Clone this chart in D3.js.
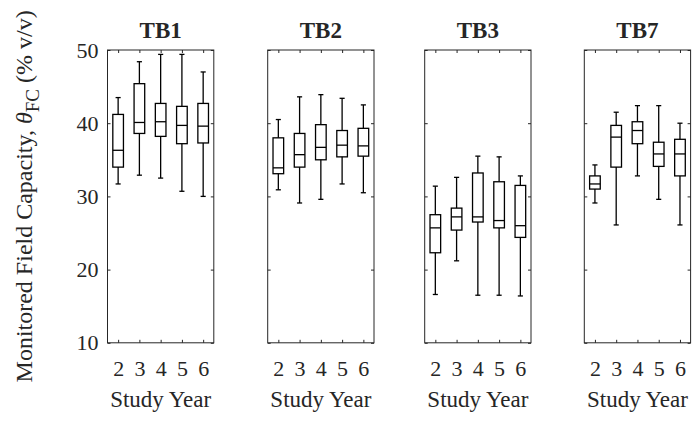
<!DOCTYPE html>
<html>
<head>
<meta charset="utf-8">
<script src="https://cdn.jsdelivr.net/npm/d3@7"></script>
<style>
  html, body { margin: 0; padding: 0; background: #fff; }
  svg { display: block; }
  text { font-family: "Liberation Serif", "Times New Roman", serif; fill: #262626; }
</style>
</head>
<body>
<div id="chart"></div>
<script>
// ---- data ----
const sites = ["TB1", "TB2", "TB3", "TB7"];
const years = [2, 3, 4, 5, 6];
const yTicks = [10, 20, 30, 40, 50];
// per site: lower whisker, Q1, median, Q3, upper whisker for each study year
const tb1Low = [31.7, 32.9, 32.5, 30.7, 30.0];
const tb1Q1  = [34.0, 38.6, 38.2, 37.2, 37.3];
const tb1Med = [36.3, 40.1, 40.2, 39.7, 39.6];
const tb1Q3  = [41.2, 45.4, 42.7, 42.3, 42.7];
const tb1High= [43.5, 48.4, 49.4, 49.4, 47.0];

const tb2Low = [30.9, 29.1, 29.6, 31.7, 30.5];
const tb2Q1  = [33.1, 34.0, 35.0, 35.4, 35.5];
const tb2Med = [33.9, 35.7, 36.7, 37.0, 36.9];
const tb2Q3  = [38.0, 38.6, 39.8, 39.0, 39.3];
const tb2High= [40.5, 43.6, 43.9, 43.4, 42.5];

const tb3Low = [16.6, 21.2, 16.5, 16.5, 16.4];
const tb3Q1  = [22.3, 25.4, 26.5, 25.7, 24.4];
const tb3Med = [25.7, 27.2, 27.2, 26.7, 26.0];
const tb3Q3  = [27.5, 28.4, 33.2, 32.0, 31.5];
const tb3High= [31.4, 32.6, 35.5, 35.4, 32.8];

const tb7Low = [29.1, 26.1, 32.8, 29.6, 26.1];
const tb7Q1  = [31.0, 34.0, 37.2, 34.1, 32.8];
const tb7Med = [31.7, 38.1, 39.0, 35.8, 35.8];
const tb7Q3  = [32.8, 39.7, 40.2, 37.4, 37.8];
const tb7High= [34.3, 41.5, 42.4, 42.4, 40.0];

const siteStats = [
  [tb1Low, tb1Q1, tb1Med, tb1Q3, tb1High],
  [tb2Low, tb2Q1, tb2Med, tb2Q3, tb2High],
  [tb3Low, tb3Q1, tb3Med, tb3Q3, tb3High],
  [tb7Low, tb7Q1, tb7Med, tb7Q3, tb7High]
];

// ---- layout ----
const W = 696, H = 421;
const panelLeft = [107.5, 267.7, 424.7, 584.3];
const panelW = 106.3;
const plotTop = 50, plotBottom = 342.8;
const axisColor = "#262626";

const svg = d3.select("#chart").append("svg")
  .attr("width", W).attr("height", H);

const y = d3.scaleLinear().domain([10, 50]).range([plotBottom, plotTop]);

sites.forEach((site, si) => {
  const g = svg.append("g").attr("transform", `translate(${panelLeft[si]},0)`);
  const x = d3.scaleLinear().domain([1.5, 6.5]).range([0, panelW]);
  const [lo, q1, med, q3, hi] = siteStats[si];
  const data = years.map((yr, i) => ({ yr, lo: lo[i], q1: q1[i], med: med[i], q3: q3[i], hi: hi[i] }));

  // ticks: inward on all four sides
  const tl = 3;
  const axL = d3.axisLeft(y).tickValues(yTicks).tickSize(-tl).tickFormat(si === 0 ? d3.format("d") : () => "").tickPadding(9);
  const gl = g.append("g").call(axL);
  const axR = d3.axisRight(y).tickValues(yTicks).tickSize(-tl).tickFormat(() => "");
  const gr = g.append("g").attr("transform", `translate(${panelW},0)`).call(axR);
  const axB = d3.axisBottom(x).tickValues(years).tickSize(-tl).tickFormat(d3.format("d")).tickPadding(18);
  const gb = g.append("g").attr("transform", `translate(0,${plotBottom})`).call(axB);
  const axT = d3.axisTop(x).tickValues(years).tickSize(-tl).tickFormat(() => "");
  const gt = g.append("g").attr("transform", `translate(0,${plotTop})`).call(axT);
  [gl, gr, gb, gt].forEach(a => {
    a.select(".domain").remove();
    a.selectAll("line").attr("stroke", axisColor).attr("stroke-width", 1);
    a.selectAll("text").attr("fill", axisColor)
      .style("font-family", '"Liberation Serif", "Times New Roman", serif')
      .style("font-size", "22px");
  });
  gb.selectAll("text").attr("dy", "0.71em");

  g.append("rect").attr("x", 0).attr("y", plotTop).attr("width", panelW).attr("height", plotBottom - plotTop)
    .attr("fill", "none").attr("stroke", axisColor).attr("stroke-width", 1);

  const bw = x(2.25) - x(2);   // half box width
  const cw = x(2.12) - x(2);   // half cap width
  const boxes = g.append("g").attr("stroke", "#000").attr("stroke-width", 1.3).attr("fill", "none");
  const bx = boxes.selectAll("g").data(data).join("g");
  bx.append("line").attr("x1", d => x(d.yr)).attr("x2", d => x(d.yr)).attr("y1", d => y(d.hi)).attr("y2", d => y(d.q3));
  bx.append("line").attr("x1", d => x(d.yr)).attr("x2", d => x(d.yr)).attr("y1", d => y(d.q1)).attr("y2", d => y(d.lo));
  bx.append("line").attr("x1", d => x(d.yr) - cw).attr("x2", d => x(d.yr) + cw).attr("y1", d => y(d.hi)).attr("y2", d => y(d.hi));
  bx.append("line").attr("x1", d => x(d.yr) - cw).attr("x2", d => x(d.yr) + cw).attr("y1", d => y(d.lo)).attr("y2", d => y(d.lo));
  bx.append("rect").attr("x", d => x(d.yr) - bw).attr("width", 2 * bw)
    .attr("y", d => y(d.q3)).attr("height", d => y(d.q1) - y(d.q3));
  bx.append("line").attr("x1", d => x(d.yr) - bw).attr("x2", d => x(d.yr) + bw).attr("y1", d => y(d.med)).attr("y2", d => y(d.med));

  g.append("text").attr("x", panelW / 2).attr("y", 37.5).attr("text-anchor", "middle")
    .style("font-size", "23px").style("font-weight", "bold").text(site);

  g.append("text").attr("x", panelW / 2).attr("y", 407).attr("text-anchor", "middle")
    .style("font-size", "23px").text("Study Year");
});

// y-axis title
const yt = svg.append("text")
  .attr("transform", `translate(32,${(plotTop + plotBottom) / 2}) rotate(-90)`)
  .attr("text-anchor", "middle")
  .style("font-size", "24px");
yt.append("tspan").text("Monitored Field Capacity, ");
yt.append("tspan").style("font-style", "italic").text("θ");
yt.append("tspan").attr("dy", 7).style("font-size", "19px").text("FC");
yt.append("tspan").attr("dy", -7).text(" (% v/v)");
</script>
</body>
</html>
